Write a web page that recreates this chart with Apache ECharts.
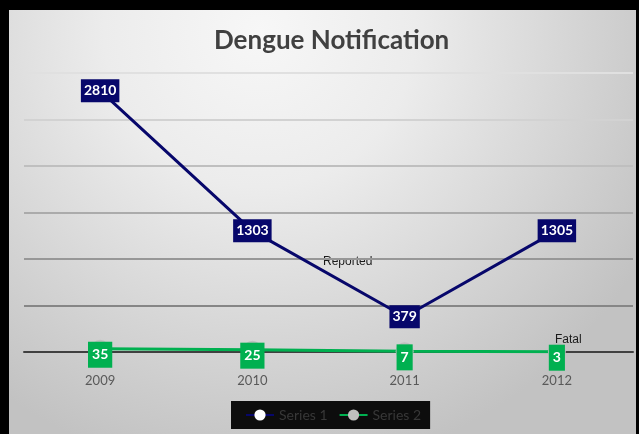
<!DOCTYPE html>
<html>
<head>
<meta charset="utf-8">
<title>Dengue Notification</title>
<script src="https://cdn.jsdelivr.net/npm/echarts@6/dist/echarts.min.js"></script>
<style>
  html, body { margin: 0; padding: 0; background: #000; }
  #chart { width: 639px; height: 434px; }
</style>
</head>
<body>
<div id="chart"></div>
<script>
// chart data
const years = ['2009', '2010', '2011', '2012']
const reported = [2810, 1303, 379, 1305]
const fatal = [35, 25, 7, 3]
const seriesNames = ['Series 1', 'Series 2']

const navy = '#07076b'
const green = '#00b050'

const chart = echarts.init(document.getElementById('chart'))

// gridlines get darker toward the bottom (index 0 = value 0)
const gridColors = ['#404040', '#868686', '#979797', '#ababab', '#bfbfbf', '#d2d2d2', '#e0e0e0']

const option = {
  backgroundColor: 'transparent',
  animation: false,
  title: {
    text: 'Dengue Notification',
    left: 209,
    top: 23,
    textStyle: {
      fontFamily: 'Lato',
      fontWeight: 'bold',
      fontSize: 26,
      color: '#404040'
    }
  },
  graphic: [
    {
      type: 'rect',
      z: -10,
      shape: { x: 9, y: 10, width: 627, height: 424 },
      style: {
        fill: new echarts.graphic.RadialGradient(0.4, 0.05, 1.05, [
          { offset: 0, color: '#f7f7f7' },
          { offset: 0.35, color: '#ececec' },
          { offset: 1, color: '#c2c2c2' }
        ])
      }
    },
    {
      type: 'text',
      left: 323,
      top: 256,
      style: { text: 'Reported', font: '12px "Liberation Sans"', fill: '#1a1a1a' }
    },
    {
      type: 'text',
      left: 555,
      top: 334,
      z: 100,
      style: { text: 'Fatal', font: '12px "Liberation Sans"', fill: '#1a1a1a' }
    }
  ],
  legend: {
    data: seriesNames,
    left: 231,
    top: 401,
    padding: [7, 9, 7, 14],
    itemGap: 11,
    itemWidth: 28,
    itemHeight: 14,
    backgroundColor: '#0d0d0d',
    textStyle: {
      color: '#383838',
      fontFamily: 'Lato',
      fontSize: 14
    }
  },
  grid: {
    left: 24,
    right: 6,
    top: 73,
    bottom: 82,
    containLabel: false
  },
  xAxis: {
    type: 'category',
    data: years,
    boundaryGap: true,
    axisLine: { lineStyle: { color: '#404040', width: 2 } },
    axisTick: { show: false },
    axisLabel: {
      color: '#595959',
      fontFamily: 'Lato',
      fontSize: 13,
      margin: 22
    }
  },
  yAxis: {
    type: 'value',
    min: 0,
    max: 3000,
    interval: 500,
    axisLine: { show: false },
    axisTick: { show: false },
    axisLabel: { show: false },
    splitLine: {
      lineStyle: { color: gridColors, width: 2 }
    }
  },
  series: [
    {
      name: seriesNames[0],
      type: 'line',
      data: reported,
      symbol: 'circle',
      symbolSize: 10,
      lineStyle: { color: navy, width: 3 },
      itemStyle: { color: '#ffffff' },
      label: {
        show: true,
        position: 'inside',
        backgroundColor: navy,
        color: '#ffffff',
        fontFamily: 'Lato',
        fontWeight: 'bold',
        fontSize: 14,
        padding: [5, 3, 4, 3]
      },
      z: 3
    },
    {
      name: seriesNames[1],
      type: 'line',
      data: fatal,
      symbol: 'circle',
      symbolSize: 18,
      lineStyle: { color: green, width: 3 },
      itemStyle: { color: '#bfbfbf' },
      label: {
        show: true,
        position: 'inside',
        offset: [0, 6],
        backgroundColor: green,
        color: '#ffffff',
        fontFamily: 'Lato',
        fontWeight: 'bold',
        fontSize: 14,
        padding: [6, 4, 6, 4]
      },
      z: 4
    }
  ]
}

chart.setOption(option)
</script>
</body>
</html>
